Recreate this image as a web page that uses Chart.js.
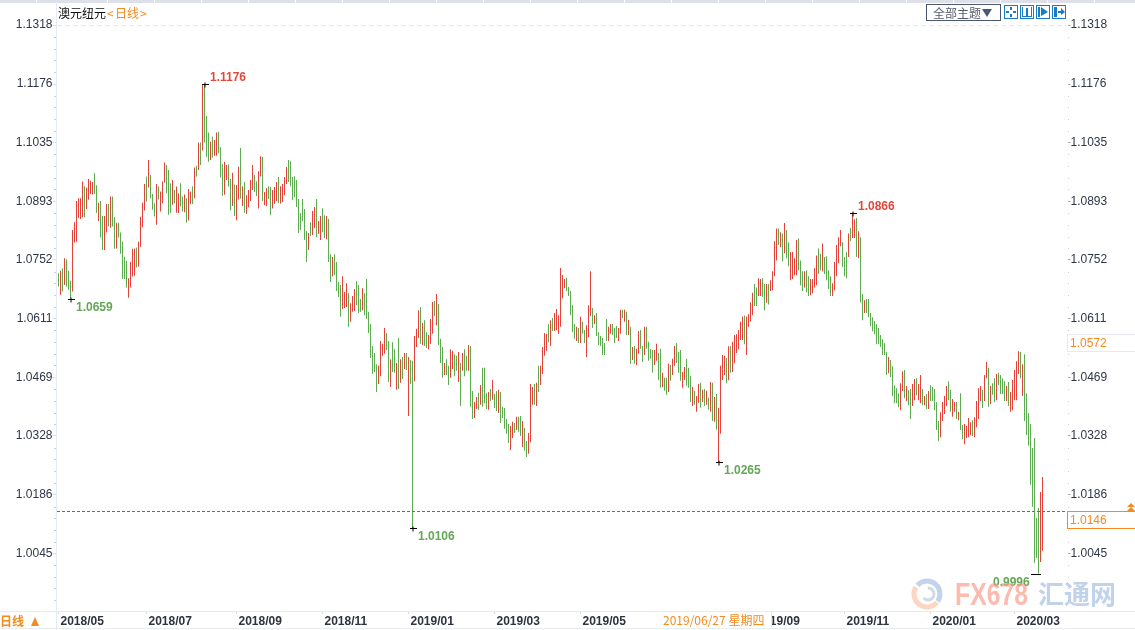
<!DOCTYPE html>
<html lang="zh">
<head>
<meta charset="UTF-8">
<title>澳元纽元 日线</title>
<script src="https://cdn.jsdelivr.net/npm/chart.js"></script>
<style>
  html, body { margin: 0; padding: 0; background: #fff; overflow: hidden; }
  canvas { display: block; }
</style>
</head>
<body>
<canvas id="kline" width="1135" height="630"></canvas>
<script>
// daily high / low of each bar
const highs = [
1.0720,1.0726,1.0732,1.0756,1.0754,1.0726,1.0702,1.0824,1.0843,1.0894,
1.0901,1.0901,1.0941,1.0930,1.0927,1.0947,1.0943,1.0940,1.0961,1.0932,
1.0890,1.0894,1.0858,1.0858,1.0887,1.0887,1.0905,1.0905,1.0855,1.0842,
1.0842,1.0818,1.0796,1.0760,1.0750,1.0708,1.0747,1.0779,1.0780,1.0782,
1.0796,1.0856,1.0890,1.0935,1.0953,1.0993,1.0957,1.0911,1.0889,1.0935,
1.0929,1.0917,1.0941,1.0987,1.0981,1.0969,1.0937,1.0945,1.0921,1.0929,
1.0913,1.0937,1.0905,1.0910,1.0901,1.0923,1.0917,1.0930,1.0975,1.0979,
1.1035,1.1035,1.1176,1.1176,1.1099,1.1059,1.1037,1.1049,1.1041,1.1059,
1.1061,1.1024,1.0983,1.0989,1.0981,1.0983,1.0947,1.0962,1.0934,1.0933,
1.0977,1.1022,1.0930,1.0940,1.0908,1.0921,1.0945,1.0981,1.0957,1.0942,
1.0966,1.1002,1.1000,1.0916,1.0925,1.0930,1.0928,1.0921,1.0928,1.0940,
1.0952,1.0930,1.0935,1.0952,1.0976,1.0993,1.0990,1.0952,1.0954,1.0945,
1.0899,1.0865,1.0899,1.0875,1.0822,1.0817,1.0843,1.0870,1.0880,1.0899,
1.0846,1.0858,1.0877,1.0860,1.0858,1.0851,1.0766,1.0759,1.0766,1.0747,
1.0699,1.0692,1.0713,1.0675,1.0696,1.0672,1.0648,1.0665,1.0682,1.0701,
1.0692,1.0658,1.0684,1.0672,1.0706,1.0627,1.0598,1.0545,1.0528,1.0501,
1.0497,1.0557,1.0550,1.0588,1.0576,1.0557,1.0513,1.0554,1.0537,1.0504,
1.0564,1.0513,1.0518,1.0528,1.0528,1.0518,1.0511,1.0509,1.0569,1.0586,
1.0631,1.0639,1.0600,1.0607,1.0578,1.0571,1.0610,1.0651,1.0653,1.0670,
1.0646,1.0562,1.0542,1.0504,1.0513,1.0497,1.0537,1.0533,1.0525,1.0521,
1.0530,1.0504,1.0528,1.0537,1.0521,1.0547,1.0545,1.0436,1.0410,1.0422,
1.0432,1.0451,1.0492,1.0492,1.0432,1.0434,1.0441,1.0463,1.0429,1.0436,
1.0439,1.0434,1.0398,1.0395,1.0369,1.0357,1.0352,1.0362,1.0359,1.0374,
1.0374,1.0376,1.0364,1.0347,1.0316,1.0335,1.0453,1.0446,1.0453,1.0456,
1.0497,1.0497,1.0542,1.0576,1.0574,1.0598,1.0607,1.0612,1.0624,1.0634,
1.0619,1.0733,1.0716,1.0706,1.0709,1.0687,1.0677,1.0643,1.0598,1.0591,
1.0588,1.0615,1.0603,1.0583,1.0595,1.0643,1.0725,1.0636,1.0619,1.0624,
1.0578,1.0569,1.0564,1.0552,1.0610,1.0591,1.0598,1.0598,1.0588,1.0593,
1.0588,1.0632,1.0632,1.0632,1.0627,1.0608,1.0591,1.0542,1.0545,1.0538,
1.0581,1.0583,1.0545,1.0591,1.0591,1.0555,1.0538,1.0535,1.0535,1.0550,
1.0528,1.0538,1.0480,1.0468,1.0468,1.0502,1.0499,1.0514,1.0545,1.0552,
1.0530,1.0535,1.0482,1.0494,1.0514,1.0492,1.0473,1.0446,1.0437,1.0424,
1.0453,1.0456,1.0439,1.0441,1.0437,1.0420,1.0458,1.0456,1.0422,1.0429,
1.0396,1.0497,1.0523,1.0521,1.0516,1.0544,1.0544,1.0555,1.0571,1.0573,
1.0583,1.0603,1.0616,1.0618,1.0616,1.0621,1.0650,1.0673,1.0694,1.0686,
1.0708,1.0706,1.0708,1.0694,1.0694,1.0694,1.0703,1.0725,1.0797,1.0828,
1.0828,1.0819,1.0816,1.0841,1.0824,1.0795,1.0771,1.0771,1.0756,1.0800,
1.0804,1.0751,1.0725,1.0725,1.0727,1.0713,1.0706,1.0706,1.0732,1.0763,
1.0780,1.0767,1.0792,1.0759,1.0761,1.0727,1.0713,1.0696,1.0747,1.0788,
1.0807,1.0824,1.0795,1.0759,1.0771,1.0816,1.0829,1.0866,1.0850,1.0853,
1.0821,1.0807,1.0670,1.0655,1.0658,1.0658,1.0624,1.0614,1.0605,1.0597,
1.0588,1.0571,1.0561,1.0552,1.0530,1.0518,1.0511,1.0496,1.0450,1.0443,
1.0431,1.0455,1.0484,1.0487,1.0448,1.0438,1.0441,1.0453,1.0465,1.0467,
1.0453,1.0475,1.0441,1.0424,1.0429,1.0436,1.0450,1.0446,1.0441,1.0409,
1.0364,1.0385,1.0410,1.0424,1.0448,1.0460,1.0439,1.0417,1.0410,1.0410,
1.0386,1.0431,1.0354,1.0357,1.0352,1.0371,1.0361,1.0366,1.0373,1.0412,
1.0443,1.0448,1.0439,1.0475,1.0506,1.0492,1.0448,1.0455,1.0467,1.0477,
1.0480,1.0475,1.0467,1.0460,1.0448,1.0458,1.0434,1.0463,1.0487,1.0508,
1.0532,1.0530,1.0501,1.0525,1.0431,1.0383,1.0357,1.0299,1.0323,1.0130,
1.0154,1.0193,1.0229
];
const lows = [
1.0688,1.0668,1.0676,1.0692,1.0688,1.0680,1.0659,1.0676,1.0794,1.0796,
1.0853,1.0851,1.0855,1.0855,1.0875,1.0897,1.0911,1.0910,1.0911,1.0865,
1.0846,1.0806,1.0776,1.0776,1.0818,1.0833,1.0830,1.0833,1.0779,1.0780,
1.0806,1.0767,1.0706,1.0706,1.0686,1.0661,1.0686,1.0712,1.0714,1.0734,
1.0736,1.0784,1.0831,1.0871,1.0893,1.0927,1.0901,1.0873,1.0857,1.0837,
1.0898,1.0869,1.0889,1.0939,1.0913,1.0861,1.0865,1.0885,1.0889,1.0866,
1.0865,1.0881,1.0869,1.0867,1.0842,1.0847,1.0887,1.0887,1.0901,1.0953,
1.0969,1.0981,1.1016,1.1035,1.1001,1.0989,1.0993,1.0999,1.1003,1.1003,
1.1009,1.0951,1.0907,1.0909,1.0945,1.0929,1.0872,1.0882,1.0858,1.0848,
1.0898,1.0900,1.0882,1.0866,1.0863,1.0879,1.0894,1.0921,1.0916,1.0906,
1.0876,1.0953,1.0894,1.0884,1.0882,1.0899,1.0860,1.0876,1.0887,1.0894,
1.0889,1.0888,1.0892,1.0908,1.0935,1.0940,1.0930,1.0896,1.0904,1.0880,
1.0817,1.0824,1.0846,1.0800,1.0747,1.0776,1.0810,1.0812,1.0829,1.0807,
1.0815,1.0800,1.0819,1.0805,1.0802,1.0747,1.0699,1.0713,1.0716,1.0677,
1.0663,1.0615,1.0634,1.0636,1.0639,1.0591,1.0603,1.0627,1.0629,1.0643,
1.0624,1.0627,1.0631,1.0619,1.0610,1.0576,1.0516,1.0477,1.0482,1.0434,
1.0453,1.0472,1.0521,1.0526,1.0535,1.0458,1.0446,1.0482,1.0480,1.0439,
1.0441,1.0456,1.0465,1.0489,1.0487,1.0376,1.0453,1.0106,1.0460,1.0542,
1.0564,1.0550,1.0547,1.0545,1.0540,1.0537,1.0550,1.0574,1.0617,1.0595,
1.0547,1.0504,1.0468,1.0475,1.0475,1.0451,1.0468,1.0489,1.0472,1.0485,
1.0458,1.0400,1.0485,1.0472,1.0485,1.0485,1.0398,1.0369,1.0371,1.0393,
1.0391,1.0403,1.0398,1.0407,1.0393,1.0391,1.0412,1.0415,1.0395,1.0388,
1.0383,1.0359,1.0371,1.0345,1.0333,1.0311,1.0294,1.0323,1.0335,1.0342,
1.0338,1.0328,1.0301,1.0292,1.0277,1.0285,1.0313,1.0403,1.0403,1.0400,
1.0434,1.0451,1.0477,1.0521,1.0533,1.0554,1.0545,1.0581,1.0581,1.0583,
1.0574,1.0591,1.0660,1.0684,1.0677,1.0665,1.0619,1.0578,1.0562,1.0557,
1.0552,1.0552,1.0574,1.0552,1.0518,1.0566,1.0617,1.0588,1.0598,1.0569,
1.0547,1.0545,1.0523,1.0523,1.0557,1.0557,1.0574,1.0571,1.0552,1.0564,
1.0557,1.0574,1.0612,1.0603,1.0571,1.0571,1.0502,1.0511,1.0502,1.0499,
1.0526,1.0538,1.0506,1.0523,1.0538,1.0509,1.0514,1.0480,1.0499,1.0509,
1.0463,1.0444,1.0446,1.0437,1.0427,1.0434,1.0461,1.0475,1.0497,1.0504,
1.0480,1.0461,1.0444,1.0463,1.0449,1.0444,1.0410,1.0400,1.0403,1.0386,
1.0408,1.0396,1.0410,1.0400,1.0403,1.0391,1.0386,1.0364,1.0362,1.0343,
1.0265,1.0333,1.0463,1.0475,1.0455,1.0462,1.0480,1.0482,1.0503,1.0528,
1.0537,1.0559,1.0559,1.0549,1.0523,1.0591,1.0604,1.0619,1.0641,1.0641,
1.0665,1.0665,1.0663,1.0631,1.0649,1.0645,1.0677,1.0679,1.0713,1.0751,
1.0788,1.0783,1.0749,1.0768,1.0756,1.0737,1.0703,1.0706,1.0715,1.0715,
1.0727,1.0691,1.0677,1.0686,1.0674,1.0665,1.0667,1.0672,1.0686,1.0691,
1.0718,1.0727,1.0725,1.0718,1.0703,1.0682,1.0665,1.0665,1.0679,1.0713,
1.0744,1.0785,1.0735,1.0713,1.0708,1.0759,1.0797,1.0805,1.0805,1.0759,
1.0756,1.0650,1.0607,1.0624,1.0624,1.0614,1.0593,1.0580,1.0573,1.0549,
1.0549,1.0542,1.0523,1.0523,1.0475,1.0479,1.0470,1.0424,1.0407,1.0407,
1.0397,1.0390,1.0436,1.0419,1.0412,1.0402,1.0369,1.0400,1.0414,1.0426,
1.0414,1.0407,1.0402,1.0402,1.0393,1.0393,1.0412,1.0412,1.0390,1.0342,
1.0315,1.0325,1.0364,1.0381,1.0400,1.0414,1.0386,1.0374,1.0386,1.0369,
1.0366,1.0342,1.0320,1.0308,1.0323,1.0325,1.0330,1.0328,1.0325,1.0349,
1.0369,1.0412,1.0395,1.0412,1.0467,1.0398,1.0405,1.0427,1.0410,1.0414,
1.0451,1.0429,1.0429,1.0412,1.0412,1.0400,1.0386,1.0390,1.0414,1.0414,
1.0477,1.0467,1.0424,1.0364,1.0330,1.0304,1.0210,1.0157,1.0022,1.0034,
0.9996,1.0024,1.0051
];
// r = up day (red), g = down day (green)
const barSides = (
"grgrgggrrr" + "rrrgrrrrgg" + "rggrrgrggr" + "gggggrrrrg" + "rrrrgrgggr" +
"grrrgggrgr" + "rggrgrrgrg" + "rgrgggrgrr" + "gggrrggrgr" + "rgrgrrrrgg" +
"rrgrrggrrr" + "grrrrggggg" + "gggggrgrrg" + "rrggrggrgg" + "ggrrrgrrrg" +
"ggrggggggg" + "rrrrggrggr" + "grgrgrggrr" + "rgrggrrrgr" + "gggrggrrgg" +
"rgrggrggrr" + "grgggrgrgg" + "rgggggrrgr" + "ggrggrrrgr" + "grrrrgrgrr" +
"rrrrgggggr" + "grggrrrgrg" + "gggggrrggg" + "rrgrgrgrgr" + "rggrggggrr" +
"ggrggrgrrg" + "ggrrgggrgr" + "rgrgrgrgrg" + "rrrrgrgrrr" + "rrrgrrrrgg" +
"rrggrgrrrr" + "grgrggrrrr" + "gggrggrrrr" + "ggrggggrrr" + "rrgggrgrrg" +
"rggrgggggg" + "gggggrgggg" + "grrgrggrrg" + "rrgrgrgggg" + "grrrrggrrg" +
"rggrrrrgrr" + "rrgrrgrggr" + "ggggrgrrrr" + "rgrggggggg" + "grr"
).split("");

// bar index where each month label starts
const monthBars = [0, 44, 89, 132, 175, 218, 261, 305, 348, 393, 436, 478];
const monthLabels = ["2018/05", "2018/07", "2018/09", "2018/11", "2019/01", "2019/03",
                     "2019/05", "2019/07", "2019/09", "2019/11", "2020/01", "2020/03"];
const priceTicks = [1.1318, 1.1176, 1.1035, 1.0893, 1.0752, 1.0611, 1.0469, 1.0328, 1.0186, 1.0045];

const lastPrice = 1.0146;
const prevPrice = 1.0572;
const crossDate = "2019/06/27 星期四";

// marked extremes: bar index, price
const pinBars = [6, 73, 177, 330, 397, 490];
const pinPrices = [1.0659, 1.1176, 1.0106, 1.0265, 1.0866, 0.9996];

const RED = "#e2423a";
const GREEN = "#5cab50";
const ORANGE = "#f58a1f";
const SANS = '"Liberation Sans", Arial, sans-serif';
const CJK = '"Noto Sans CJK SC", sans-serif';

// 1 empty slot before the first bar, 12 after the last one, 2px per slot
const slots = 1 + highs.length + 12;
const slotLabels = Array.from({ length: slots }, (_, k) => k - 1);
const ranges = [null].concat(highs.map((h, i) => [lows[i], h]));
const colors = [null].concat(barSides.map(s => s === "r" ? RED : GREEN));

function text(ctx, str, x, y, color, font, align) {
  ctx.fillStyle = color;
  ctx.font = font;
  ctx.textAlign = align || "left";
  ctx.textBaseline = "middle";
  ctx.fillText(str, x, y);
}

function line(ctx, x1, y1, x2, y2, color) {
  ctx.strokeStyle = color;
  ctx.lineWidth = 1;
  ctx.beginPath();
  ctx.moveTo(x1, y1);
  ctx.lineTo(x2, y2);
  ctx.stroke();
}

function tri(ctx, x1, y1, x2, y2, x3, y3, color) {
  ctx.fillStyle = color;
  ctx.beginPath();
  ctx.moveTo(x1, y1);
  ctx.lineTo(x2, y2);
  ctx.lineTo(x3, y3);
  ctx.closePath();
  ctx.fill();
}

// everything around the bars: frame, toolbar, pins, price boxes, watermark
const decorations = {
  id: "decorations",
  beforeDatasetsDraw(chart) {
    const ctx = chart.ctx, y = chart.scales.y;
    ctx.save();
    // top dashed line
    ctx.setLineDash([5, 3]);
    const ty = Math.round(y.getPixelForValue(priceTicks[0])) + 0.5;
    line(ctx, 57, ty, 1067, ty, "#e6e6e6");
    ctx.setLineDash([]);
    ctx.restore();
  },
  afterDraw(chart) {
    const ctx = chart.ctx, x = chart.scales.x, y = chart.scales.y;
    ctx.save();

    // tabs strip on top
    ctx.fillStyle = "#dde0e8";
    ctx.fillRect(0, 0, 1135, 3);
    ctx.fillStyle = "#ffffff";
    for (let tx = 36; tx < 1135; tx = tx === 36 ? 107 : tx + 47) ctx.fillRect(tx, 0, 1, 3);

    // frame lines
    line(ctx, 0, 611.5, 1135, 611.5, "#e6eaf0");
    line(ctx, 0, 628.5, 1135, 628.5, "#e9edf2");
    line(ctx, 56.5, 4, 56.5, 630, "#e4ebf2");

    // little dots between price ticks on both axes
    ctx.fillStyle = "#c9ced6";
    for (let i = 0; i < priceTicks.length; i++) {
      const py = y.getPixelForValue(priceTicks[i]);
      for (let k = 1; k < 5; k++) {
        const dy = Math.round(py + k * 11.7);
        ctx.fillRect(54, dy, 2, 1);
        ctx.fillRect(1068, dy, 1, 1);
      }
    }

    // title
    text(ctx, "澳元纽元", 58, 13.5, "#111111", "12px " + CJK);
    text(ctx, "<", 107, 13.5, ORANGE, "12px " + CJK);
    text(ctx, "日线", 115, 13.5, ORANGE, "12px " + CJK);
    text(ctx, ">", 140, 13.5, ORANGE, "12px " + CJK);

    // toolbar
    ctx.strokeStyle = "#4c5870";
    ctx.strokeRect(926.5, 4.5, 74, 16);
    text(ctx, "全部主题", 933, 13, "#555c6b", "12px " + CJK);
    tri(ctx, 982, 9, 992, 9, 987, 17, "#4c5870");
    const blue = "#1a7cc4";
    [1004, 1020, 1036, 1052].forEach(bx => {
      ctx.strokeStyle = blue;
      ctx.strokeRect(bx + 0.5, 5.5, 13, 13);
    });
    ctx.fillStyle = blue;
    // crosshair
    ctx.fillRect(1010, 7, 2, 3); ctx.fillRect(1010, 14, 2, 3);
    ctx.fillRect(1006, 11, 3, 2); ctx.fillRect(1013, 11, 3, 2);
    // zoom in
    ctx.fillRect(1022, 7, 1, 10); ctx.fillRect(1031, 7, 1, 10);
    ctx.fillRect(1026, 8, 2, 8); ctx.fillRect(1023, 16, 8, 1);
    // play forward
    ctx.fillRect(1038, 7, 2, 10);
    tri(ctx, 1041, 7, 1041, 16, 1048, 12, blue);
    // to the end
    ctx.fillRect(1054, 7, 3, 10);
    ctx.fillRect(1058, 11, 4, 2);
    tri(ctx, 1061, 8, 1061, 15, 1065, 12, blue);

    // current price line
    const ly = Math.round(y.getPixelForValue(lastPrice)) + 0.5;
    ctx.setLineDash([3, 2]);
    line(ctx, 57, ly, 1067, ly, "#2a78c8");
    ctx.setLineDash([]);

    // pins on the extremes
    pinBars.forEach((b, i) => {
      const px = x.getPixelForValue(b + 1) + 0.5;
      const py = Math.round(y.getPixelForValue(pinPrices[i])) + 0.5;
      const last = i === pinBars.length - 1;
      const isHigh = i === 1 || i === 4;
      line(ctx, px - (last ? 8 : 3), py, px + (last ? 2 : 4), py, "#000000");
      if (!last) line(ctx, px, py - 2, px, py + 3, "#000000");
      const c = isHigh ? "#df4a3c" : "#64a756";
      const s = pinPrices[i].toFixed(4);
      const font = "bold 12px " + SANS;
      if (last) text(ctx, s, px - 46, py + 8, c, font);
      else if (isHigh) text(ctx, s, px + 5, py - 7, c, font);
      else text(ctx, s, px + 5, py + 8, c, font);
    });

    // boxes on the right axis
    ctx.fillStyle = "#ffffff";
    ctx.fillRect(1067, 334, 68, 18);
    ctx.strokeStyle = "#e6eaf0";
    ctx.strokeRect(1067.5, 334.5, 68, 17);
    text(ctx, prevPrice.toFixed(4), 1070, 343.5, ORANGE, "12px " + SANS);

    ctx.fillStyle = "#ffffff";
    ctx.fillRect(1067, 511, 68, 18);
    ctx.strokeStyle = ORANGE;
    ctx.strokeRect(1067.5, 511.5, 68, 17);
    text(ctx, lastPrice.toFixed(4), 1070, 520.5, ORANGE, "12px " + SANS);
    tri(ctx, 1127, 507, 1135, 507, 1131, 503, ORANGE);
    tri(ctx, 1127, 511, 1135, 511, 1131, 507, ORANGE);

    // cross date covers part of the axis labels
    ctx.fillStyle = "#ffffff";
    ctx.fillRect(661, 612, 110, 16);
    text(ctx, crossDate, 663, 620, ORANGE, "12px " + CJK);
    line(ctx, 771.5, 612, 771.5, 628, "#e6eaf0");

    // period switch bottom left
    text(ctx, "日线", 0, 621, ORANGE, "bold 12px " + CJK);
    tri(ctx, 31, 626, 39, 626, 35, 617, ORANGE);

    // watermark
    ctx.lineCap = "butt";
    ctx.lineWidth = 5;
    ctx.strokeStyle = "rgba(120,160,210,0.45)";
    ctx.beginPath(); ctx.arc(927, 594, 13, -2.4, 0.6); ctx.stroke();
    ctx.strokeStyle = "rgba(250,165,120,0.45)";
    ctx.beginPath(); ctx.arc(927, 594, 13, 0.7, 3.7); ctx.stroke();
    ctx.lineWidth = 3;
    ctx.strokeStyle = "rgba(140,160,190,0.4)";
    ctx.beginPath(); ctx.arc(928, 594, 6, -1.6, 2.4); ctx.stroke();

    const grad = ctx.createLinearGradient(955, 0, 1028, 0);
    grad.addColorStop(0, "rgba(253,215,150,0.65)");
    grad.addColorStop(1, "rgba(250,150,130,0.65)");
    ctx.fillStyle = grad;
    ctx.font = "bold 32px " + SANS;
    ctx.textAlign = "left";
    ctx.textBaseline = "alphabetic";
    ctx.fillText("FX678", 955, 605, 73);
    ctx.fillStyle = "rgba(105,150,205,0.42)";
    ctx.font = "bold 26px " + CJK;
    ctx.fillText("汇通网", 1038, 604, 79);

    ctx.restore();
  }
};

const priceAxis = (position, tickColor) => ({
  type: "linear",
  position: position,
  min: 0.9906,
  max: 1.1369,
  afterBuildTicks: s => { s.ticks = priceTicks.map(v => ({ value: v })); },
  afterFit: s => {
    s.width = position === "left" ? 55.5 : 67.5;
    // keep the plot area where the frame expects it
    s.paddingTop = 0;
    s.paddingBottom = 0;
  },
  border: { display: false },
  grid: { drawOnChartArea: false, drawTicks: true, tickLength: 3, color: tickColor },
  ticks: {
    padding: 0,
    color: "#2f3648",
    font: { family: SANS, size: 12 },
    callback: v => v.toFixed(4)
  }
});

new Chart(document.getElementById("kline"), {
  type: "bar",
  data: {
    labels: slotLabels,
    datasets: [{
      data: ranges,
      backgroundColor: colors,
      barThickness: 1,
      borderWidth: 0,
      inflateAmount: 0 // default 'auto' fattens 1px bars
    }]
  },
  options: {
    responsive: false,
    devicePixelRatio: 1,
    animation: false,
    layout: { padding: { top: 4, left: 0, right: 0, bottom: 0 } },
    plugins: { legend: { display: false }, tooltip: { enabled: false } },
    scales: {
      x: {
        type: "category",
        offset: true,
        afterBuildTicks: s => { s.ticks = monthBars.map(b => ({ value: b + 1 })); },
        afterFit: s => {
          s.height = 19;
          s.paddingLeft = 0;
          s.paddingRight = 0;
        },
        border: { display: false },
        grid: { offset: false, drawOnChartArea: false, drawTicks: true, tickLength: 3, color: "#d5dbe3" },
        ticks: {
          autoSkip: false,
          maxRotation: 0,
          align: "start",
          labelOffset: 2,
          padding: 0,
          color: "#2f3340",
          font: { family: SANS, size: 12, weight: "bold" },
          callback: v => monthLabels[monthBars.indexOf(v - 1)]
        }
      },
      y: priceAxis("left", "#cfe0ef"),
      y2: priceAxis("right", "#a3a9b3")
    }
  },
  plugins: [decorations]
});
</script>
</body>
</html>
